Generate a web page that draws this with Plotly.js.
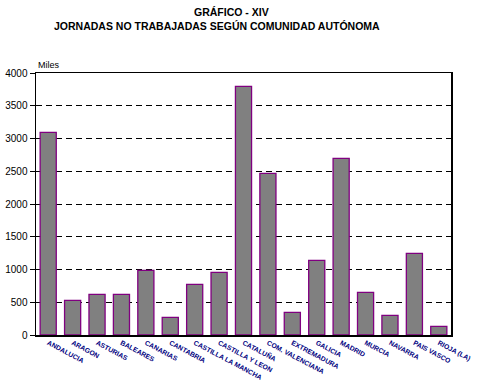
<!DOCTYPE html>
<html><head><meta charset="utf-8">
<script src="https://cdn.plot.ly/plotly-3.0.1.min.js"></script>
<style>html,body{margin:0;padding:0;background:#fff;}#c{width:477px;height:386px;}</style>
</head><body><div id="c"></div>
<script>
const regiones = ["ANDALUCIA","ARAGON","ASTURIAS","BALEARES","CANARIAS","CANTABRIA","CASTILLA LA MANCHA","CASTILLA Y LEON","CATALUÑA","COM. VALENCIANA","EXTREMADURA","GALICIA","MADRID","MURCIA","NAVARRA","PAIS VASCO","RIOJA (LA)"];
const jornadas = [3095, 530, 621, 621, 988, 270, 774, 957, 3797, 2468, 346, 1140, 2697, 652, 300, 1247, 133];
const yTicks = [0,500,1000,1500,2000,2500,3000,3500,4000];

const trace = {
  type: "bar", x: regiones, y: jornadas,
  marker: {color: "#808080", line: {color: "#800080", width: 1.3}},
  hoverinfo: "none"
};
const layout = {
  width: 477, height: 386,
  margin: {l: 36, r: 26, t: 73, b: 51},
  paper_bgcolor: "#fff", plot_bgcolor: "#fff",
  bargap: 0.34, showlegend: false,
  font: {family: "Liberation Sans, Arial, sans-serif", color: "#000"},
  xaxis: {
    type: "category", range: [-0.5, 16.5], tickangle: 28,
    showline: true, linecolor: "#000", linewidth: 1.5, mirror: true,
    ticks: "", showgrid: false,
    tickfont: {size: 6.8, color: "#000080", family: "Liberation Sans, Arial, sans-serif", weight: "bold"}
  },
  yaxis: {
    range: [0, 4000], tickvals: yTicks, ticks: "outside", ticklen: 5, tickcolor: "#000",
    showline: true, linecolor: "#000", linewidth: 1.5, mirror: true,
    showgrid: true, gridcolor: "#000", gridwidth: 1, griddash: "6px,4px",
    zeroline: false, tickfont: {size: 10, color: "#000"}
  },
  annotations: [
    {text: "<b>GRÁFICO - XIV</b>", xref: "paper", yref: "paper", x: (231-36)/415, y: 1 + (73-12)/262, showarrow: false, xanchor: "center", yanchor: "middle", font: {size: 10.5, family: "Liberation Sans, Arial, sans-serif"}},
    {text: "<b>JORNADAS NO TRABAJADAS SEGÚN COMUNIDAD AUTÓNOMA</b>", xref: "paper", yref: "paper", x: (217-36)/415, y: 1 + (73-26)/262, showarrow: false, xanchor: "center", yanchor: "middle", font: {size: 10.5, family: "Liberation Sans, Arial, sans-serif"}},
    {text: "Miles", xref: "paper", yref: "paper", x: 0, y: 1 + (73-65)/262, showarrow: false, xanchor: "left", yanchor: "middle", font: {size: 9}}
  ]
};
Plotly.newPlot("c", [trace], layout, {staticPlot: true, displayModeBar: false});
</script></body></html>
